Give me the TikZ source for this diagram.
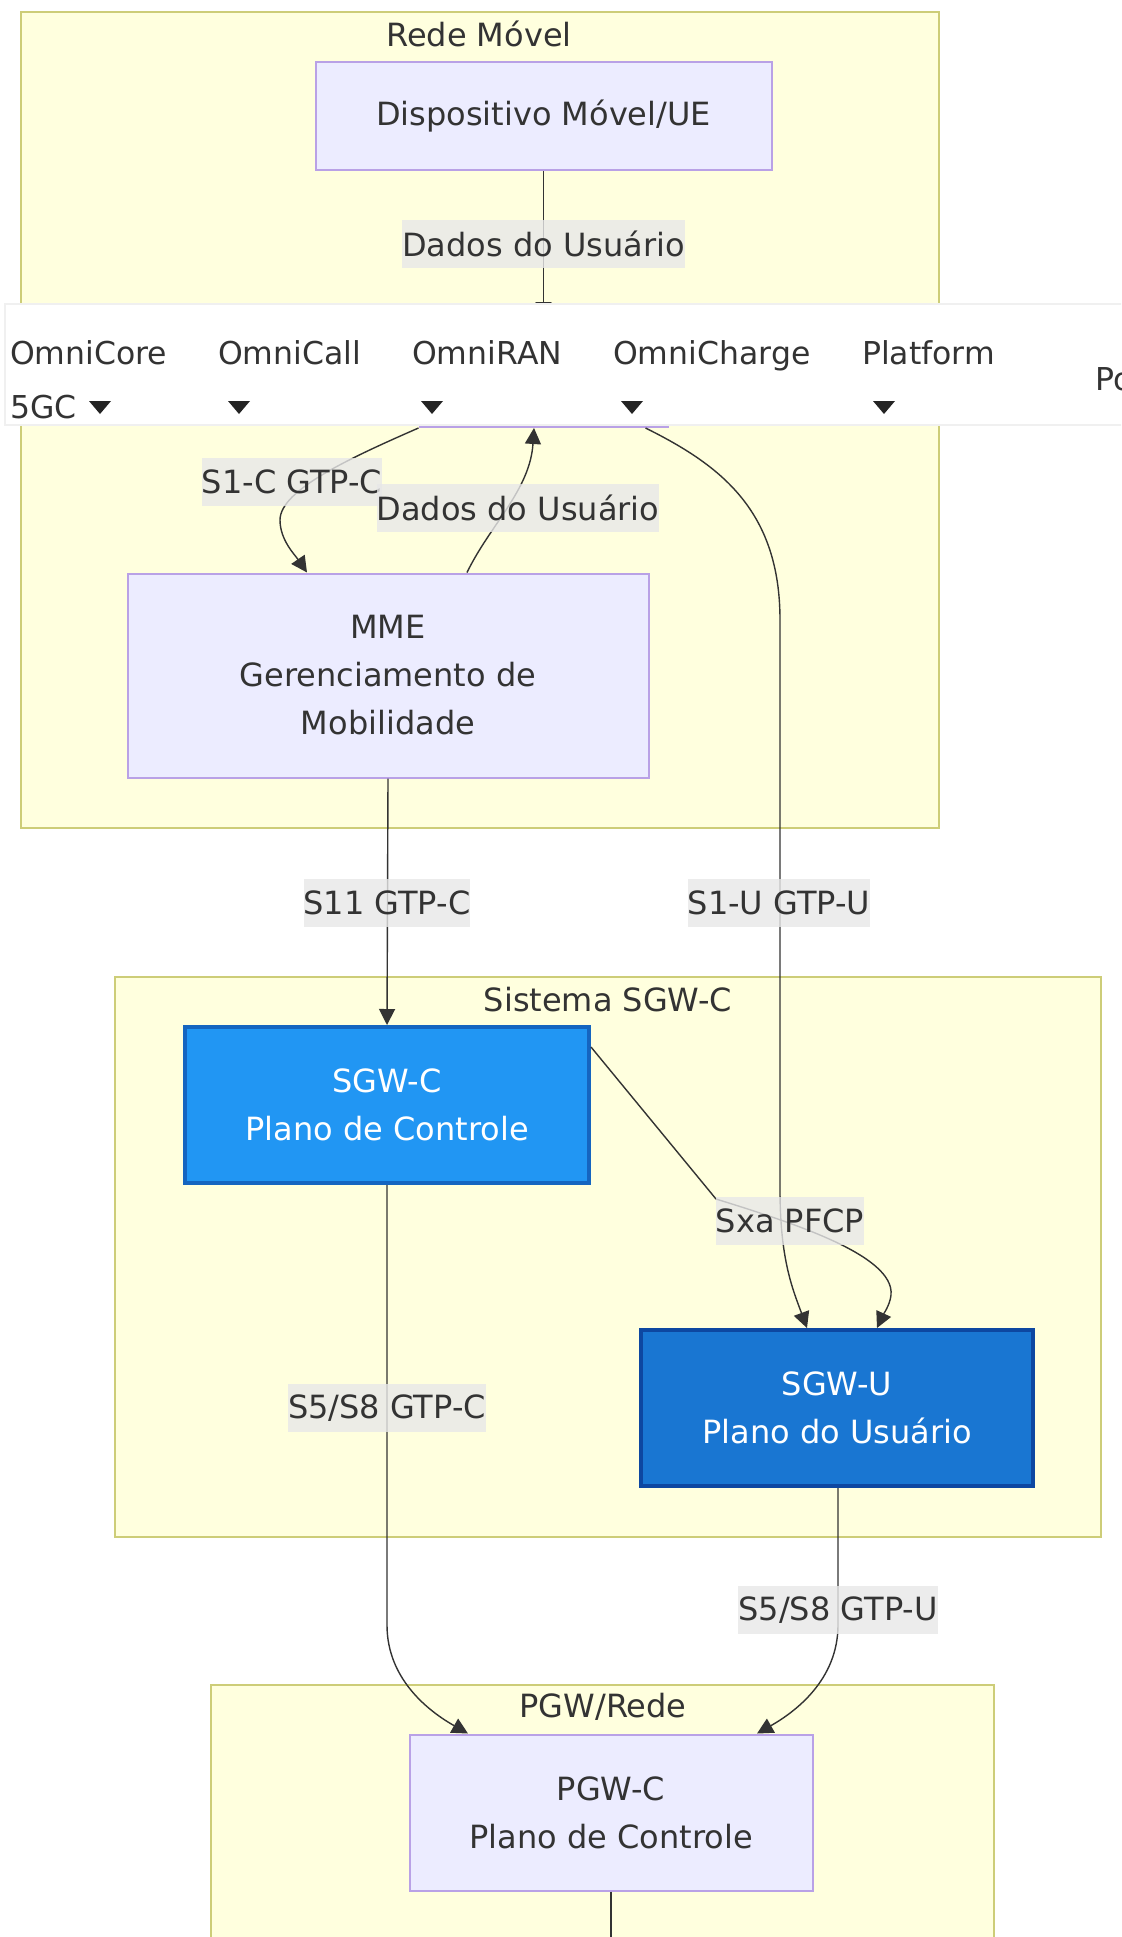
\documentclass[tikz,border=0pt]{standalone}
\usepackage{fontspec}
\setmainfont{DejaVu Sans}
\usetikzlibrary{arrows.meta}
\definecolor{subfill}{HTML}{FFFFDE}
\definecolor{subline}{HTML}{CDCD78}
\definecolor{boxfill}{HTML}{ECECFF}
\definecolor{boxline}{HTML}{B9A1E6}
\definecolor{sgwcfill}{HTML}{2196F3}
\definecolor{sgwcline}{HTML}{1565C0}
\definecolor{sgwufill}{HTML}{1976D2}
\definecolor{sgwuline}{HTML}{0D47A1}
\definecolor{ink}{HTML}{333333}
\definecolor{tag}{HTML}{E8E8E8}
\tikzset{
  area/.style={draw=subline, fill=subfill, line width=2pt},
  areatitle/.style={text=ink, font=\fontsize{32}{48}\selectfont},
  box/.style={draw=boxline, fill=boxfill, line width=2pt, text=ink, align=center, font=\fontsize{32}{48}\selectfont},
  sgwbox/.style={line width=4pt, text=white, align=center, font=\fontsize{32}{48}\selectfont},
  link/.style={->, ink, line width=1.4pt},
  tagged/.style={fill=tag, fill opacity=0.8, text opacity=1, text=ink, inner xsep=0pt, inner ysep=0pt, minimum height=48pt, font=\fontsize{32}{48}\selectfont},
  menutext/.style={text=ink, anchor=base west, inner sep=0pt, font=\fontsize{31.5}{40}\selectfont}
}
\begin{document}
\begin{tikzpicture}[x=1pt, y=-1pt, >={Triangle[length=16pt, width=16pt]}]
\clip (0,0) rectangle (1121,1937);
\fill [white] (0,0) rectangle (1121,1937);
\draw [area] (21,12) rectangle (939,828);
\draw [area] (115,977) rectangle (1101,1537);
\draw [area] (211,1685) rectangle (994,1960);
\node [areatitle] (titlemovel) at (479,34) {Rede Móvel};
\node [areatitle] (titlesgw) at (608,1000) {Sistema SGW-C};
\node [areatitle] (titlepgw) at (603,1707) {PGW/Rede};
\node [box, minimum width=456pt, minimum height=108pt] (ue) at (543.5,116) {Dispositivo Móvel/UE};
\node [box, minimum width=248pt, minimum height=108pt] (enb) at (543.5,373) {};
\node [box, minimum width=521pt, minimum height=204pt] (mme) at (388,675.5) {MME\\Gerenciamento de\\Mobilidade};
\node [sgwbox, draw=sgwcline, fill=sgwcfill, minimum width=404pt, minimum height=156pt] (sgwc) at (387,1105) {SGW-C\\Plano de Controle};
\node [sgwbox, draw=sgwuline, fill=sgwufill, minimum width=392pt, minimum height=156pt] (sgwu) at (837,1408) {SGW-U\\Plano do Usuário};
\node [box, minimum width=403pt, minimum height=156pt] (pgwc) at (611,1812.5) {PGW-C\\Plano de Controle};
\coordinate (pgwdown) at (611,1945);
\draw [link] (ue) -- (enb);
\draw [link] (enb.south west) .. controls (350,458) and (280,490) .. (280,520) .. controls (280,540) and (295,555) .. ([xshift=-81pt]mme.north);
\draw [link] ([xshift=79pt]mme.north) .. controls (490,525) and (530,490) .. ([xshift=-9.5pt]enb.south);
\draw [link] ([xshift=102pt]enb.south) .. controls (720,465) and (780,510) .. (780,620) -- (780,1190) .. controls (780,1260) and (793,1290) .. ([xshift=-30pt]sgwu.north);
\draw [link] (mme.south) -- (sgwc.north);
\draw [link] ([yshift=58pt]sgwc.east) -- (716,1199) .. controls (790,1222) and (895,1255) .. (891,1295) .. controls (890,1305) and (883,1315) .. ([xshift=40pt]sgwu.north);
\draw [link] (sgwc.south) -- (387,1625) .. controls (387,1680) and (430,1712) .. ([xshift=-143pt]pgwc.north);
\draw [link] ([xshift=1pt]sgwu.south) -- (838,1625) .. controls (838,1680) and (795,1712) .. ([xshift=146pt]pgwc.north);
\draw [link, -] (pgwc.south) -- (pgwdown);
\node [tagged] (tague) at (543.5,244) {Dados do Usuário};
\node [tagged] (tags1c) at (292,482) {S1-C GTP-C};
\node [tagged] (tagup) at (518,508) {Dados do Usuário};
\node [tagged] (tags11) at (387,903) {S11 GTP-C};
\node [tagged] (tags1u) at (779,903) {S1-U GTP-U};
\node [tagged] (tagsxa) at (790,1221) {Sxa PFCP};
\node [tagged] (tags5c) at (387,1408) {S5/S8 GTP-C};
\node [tagged] (tags5u) at (838,1610) {S5/S8 GTP-U};
\fill [white, draw=black!6, line width=1.5pt] (5,304) rectangle (1130,425);
\foreach \name/\x/\t in {core/10/OmniCore, call/218/OmniCall, ran/412/OmniRAN, charge/613/OmniCharge, plat/862/Platform}
{
\node [menutext] (menu\name) at (\x,364) {\t};
}
\node [menutext] (menugc) at (10,418) {5GC};
\node [menutext] (menupo) at (1095,390) {Po};
\foreach \x in {100,239,432,632,884}
{
\fill [ink!70!black] (\x-11,401) -- (\x+11,401) -- (\x,414) -- cycle;
}
\end{tikzpicture}
\end{document}
